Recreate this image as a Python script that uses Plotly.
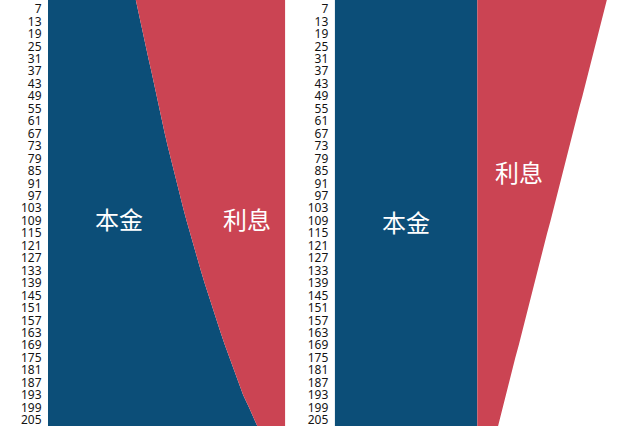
import plotly.graph_objects as go

# Months shown on the y axis (every 6th month)
months = [1, 7, 13, 19, 25, 31, 37, 43, 49, 55, 61, 67, 73, 79, 85, 91, 97, 103,
          109, 115, 121, 127, 133, 139, 145, 151, 157, 163, 169, 175, 181, 187,
          193, 199, 205, 211]
month_labels = [str(m) for m in months]

# Left panel: equal monthly payment (principal grows, interest shrinks)
principal_a = [2401, 2472, 2544, 2618, 2694, 2771, 2850, 2920, 2993, 3067, 3143,
               3220, 3300, 3382, 3465, 3551, 3639, 3729, 3821, 3916, 4013, 4112,
               4214, 4318, 4425, 4534, 4647, 4762, 4880, 5000, 5124, 5251, 5381,
               5544, 5700, 5850]
interest_a = [4143, 4072, 4000, 3926, 3850, 3773, 3694, 3624, 3551, 3477, 3401,
              3324, 3244, 3162, 3079, 2993, 2905, 2815, 2723, 2628, 2531, 2432,
              2330, 2226, 2119, 2010, 1897, 1782, 1664, 1544, 1420, 1293, 1163,
              1000, 844, 694]

# Right panel: equal principal (principal constant, interest shrinks)
principal_b = [4167] * len(months)
interest_b = [3810, 3720, 3620, 3530, 3440, 3350, 3250, 3160, 3070, 2970, 2880,
              2790, 2690, 2600, 2510, 2420, 2320, 2230, 2140, 2040, 1950, 1860,
              1760, 1670, 1580, 1490, 1390, 1300, 1210, 1110, 1020, 930, 830,
              740, 650, 560]

BLUE = "#0c4e78"
RED = "#cb4453"

fig = go.Figure()

fig.add_trace(go.Scatter(x=principal_a, y=months, orientation="h", stackgroup="a",
                         mode="lines", line=dict(width=0), fillcolor=BLUE,
                         xaxis="x", yaxis="y", hoverinfo="skip"))
fig.add_trace(go.Scatter(x=interest_a, y=months, orientation="h", stackgroup="a",
                         mode="lines", line=dict(width=0), fillcolor=RED,
                         xaxis="x", yaxis="y", hoverinfo="skip"))
fig.add_trace(go.Scatter(x=principal_b, y=months, orientation="h", stackgroup="b",
                         mode="lines", line=dict(width=0), fillcolor=BLUE,
                         xaxis="x2", yaxis="y2", hoverinfo="skip"))
fig.add_trace(go.Scatter(x=interest_b, y=months, orientation="h", stackgroup="b",
                         mode="lines", line=dict(width=0), fillcolor=RED,
                         xaxis="x2", yaxis="y2", hoverinfo="skip"))

yrange = [207.9, 2.66]
ycommon = dict(range=yrange, tickvals=months, ticktext=month_labels,
               showgrid=False, zeroline=False, showline=False, automargin=False,
               ticks="outside", ticklen=3, tickcolor="rgba(0,0,0,0)",
               ticklabeloverflow="allow",
               tickfont=dict(family="Noto Sans", size=12, color="#141414"))

fig.update_layout(
    width=640, height=426,
    margin=dict(l=0, r=0, t=0, b=0),
    paper_bgcolor="white", plot_bgcolor="white",
    showlegend=False,
    xaxis=dict(domain=[48/640, 285.3/640], range=[0, 6544], visible=False,
               automargin=False),
    xaxis2=dict(domain=[334.7/640, 1.0], range=[0, 8921], visible=False,
                automargin=False),
    yaxis=dict(anchor="x", **ycommon),
    yaxis2=dict(anchor="x2", **ycommon),
)

lab_font = dict(family="Noto Sans CJK SC", size=24, color="white")
annots = [
    ("本金", 1960, 107.7, "x", "y"),
    ("利息", 5495, 107.7, "x", "y"),
    ("本金", 2083, 109.6, "x2", "y2"),
    ("利息", 5386, 85.5, "x2", "y2"),
]
for txt, ax, ay, xr, yr in annots:
    fig.add_annotation(text=txt, x=ax, y=ay, xref=xr, yref=yr, showarrow=False,
                       font=lab_font, xanchor="center", yanchor="middle")

fig.write_html("out.html", config={"displayModeBar": False},
               post_script="document.body.style.margin='0';"
                           "document.body.style.overflow='hidden';")
